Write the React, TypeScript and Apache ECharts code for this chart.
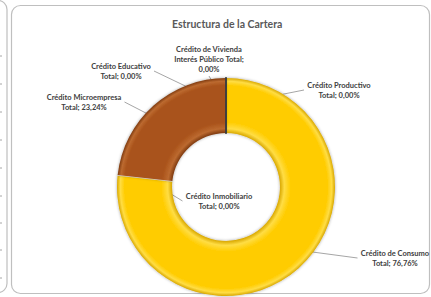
import { useEffect, useRef } from "react";
import * as echarts from "echarts";

const categories = [
  "Crédito de Consumo",
  "Crédito Inmobiliario",
  "Crédito Microempresa",
  "Crédito Educativo",
  "Crédito de Vivienda Interés Público",
  "Crédito Productivo",
];
const values = [76.76, 0, 23.24, 0, 0, 0];
const nameLines = [
  ["Crédito de Consumo"],
  ["Crédito Inmobiliario"],
  ["Crédito Microempresa"],
  ["Crédito Educativo"],
  ["Crédito de Vivienda", "Interés Público"],
  ["Crédito Productivo"],
];
const sliceColors = ["#FFCC00", "#FFCC00", "#A9521A", "#A9521A", "#A9521A", "#FFCC00"];
const titleText = "Estructura de la Cartera";

// layout (not data)
const CX = 226;
const CY = 187;
const R0 = 54;
const R1 = 109;
const labelPos = [
  [395, 258],
  [219, 201],
  [84, 102],
  [121, 71],
  [209, 59],
  [339, 90],
];
const tickYs = [56, 84, 112, 140, 168, 196, 223, 250, 278];
const LABEL_FONT = "Lato";
const LABEL_SIZE = 7.5;

const fmtPct = (v: number) => v.toFixed(2).replace(".", ",") + "%";

function labelLinesFor(i: number) {
  const nl = nameLines[i];
  const pct = fmtPct(values[i]);
  return nl.length > 1 ? [nl[0], `${nl[1]} Total;`, pct] : [nl[0], `Total; ${pct}`];
}

function grad(c0: string, c1: string, c2: string) {
  const a = R0 / R1;
  return new echarts.graphic.RadialGradient(
    CX,
    CY,
    R1,
    [
      { offset: a, color: c2 },
      { offset: a + 0.04, color: c0 },
      { offset: a + 0.1, color: c1 },
      { offset: 0.93, color: c1 },
      { offset: 0.97, color: c0 },
      { offset: 1, color: c2 },
    ],
    true
  );
}

export default function App() {
  const ref = useRef<HTMLDivElement>(null);
  useEffect(() => {
    if (!ref.current) return;
    const chart = echarts.init(ref.current, undefined, { renderer: "svg" });
    const total = values.reduce((a, b) => a + b, 0);

    const ctx = document.createElement("canvas").getContext("2d")!;
    ctx.font = `bold ${LABEL_SIZE}px ${LABEL_FONT}`;
    const widths = categories.map((_, i) =>
      Math.ceil(Math.max(...labelLinesFor(i).map((l) => ctx.measureText(l).width)))
    );
    const rich: Record<string, any> = {};
    widths.forEach((w, i) => {
      rich["t" + i] = {
        width: w,
        align: "center",
        fontFamily: LABEL_FONT,
        fontWeight: "bold",
        fontSize: LABEL_SIZE,
        lineHeight: 10,
        color: "#404040",
      };
    });

    const fills: Record<string, any> = {
      "#FFCC00": grad("#FFDD44", "#FFCC00", "#D9A800"),
      "#A9521A": grad("#BC6A30", "#A9521A", "#7F3A0F"),
    };
    const data = categories.map((c, i) => {
      const zero = values[i] === 0;
      const top = zero && i >= 3;
      return {
        name: c,
        value: values[i],
        itemStyle: {
          color: fills[sliceColors[i]],
          borderColor: top ? "#3F3F3F" : zero ? "#E8E8E8" : "rgba(0,0,0,0)",
          borderWidth: zero ? 1.5 : 0,
          shadowBlur: zero ? 0 : 3,
          shadowColor: "rgba(0,0,0,0.35)",
        },
      };
    });
    const option: any = {
      animation: false,
      backgroundColor: "#ffffff",
      title: {
        text: titleText,
        left: 167,
        top: 13,
        textStyle: {
          fontFamily: "Lato",
          fontWeight: "bold",
          fontSize: 10.5,
          color: "#595959",
        },
      },
      graphic: [
        {
          type: "rect",
          shape: { x: 11.5, y: 5.5, width: 418, height: 288, r: 9 },
          style: { fill: "none", stroke: "#BFBFBF", lineWidth: 1.2 },
          z: -1,
        },
        {
          type: "rect",
          shape: { x: -30, y: 0.5, width: 37, height: 292, r: 9 },
          style: { fill: "none", stroke: "#BFBFBF", lineWidth: 1.2 },
          z: -1,
        },
        ...tickYs.map((y) => ({
          type: "line",
          shape: { x1: 0, y1: y, x2: 2, y2: y },
          style: { stroke: "#A6A6A6", lineWidth: 1 },
        })),
      ],
      series: [
        {
          type: "pie",
          center: [CX, CY],
          radius: [R0, R1],
          startAngle: 90,
          clockwise: true,
          avoidLabelOverlap: false,
          stillShowZeroSum: true,
          minAngle: 0,
          data,
          label: {
            show: true,
            position: "outside",
            fontFamily: LABEL_FONT,
            fontWeight: "bold",
            fontSize: LABEL_SIZE,
            lineHeight: 10,
            color: "#404040",
            align: "center",
            rich,
            formatter: (p: any) => {
              const i = p.dataIndex;
              return labelLinesFor(i)
                .map((l) => `{t${i}|${l}}`)
                .join("\n");
            },
          },
          labelLine: {
            show: true,
            lineStyle: { color: "#A6A6A6", width: 1 },
          },
          emphasis: { disabled: true },
          labelLayout: (params: any) => {
            const i = params.dataIndex;
            const [lx, ly] = labelPos[i];
            const w = widths[i];
            const h = params.labelRect.height;
            let cum = 0;
            for (let k = 0; k < i; k++) cum += values[k];
            const mid = ((cum + values[i] / 2) / total) * Math.PI * 2;
            const rm = (R0 + R1) / 2;
            const px = CX + rm * Math.sin(mid);
            const py = CY - rm * Math.cos(mid);
            const left = lx - w / 2;
            const right = lx + w / 2;
            const top = ly - h / 2;
            const bottom = ly + h / 2;
            let ax: number, ay: number;
            if (px > right) {
              ax = right + 3;
              ay = ly;
            } else if (px < left) {
              ax = left - 3;
              ay = ly;
            } else if (py > bottom) {
              ax = lx;
              ay = bottom + 2;
            } else {
              ax = lx;
              ay = top - 2;
            }
            return {
              x: lx,
              y: ly,
              align: "center",
              verticalAlign: "middle",
              labelLinePoints: [
                [px, py],
                [ax, ay],
                [ax, ay],
              ],
            };
          },
        },
      ],
    };
    chart.setOption(option);
    return () => chart.dispose();
  }, []);
  return (
    <div
      ref={ref}
      style={{ position: "fixed", left: 0, top: 0, width: 431, height: 297, background: "#fff" }}
    />
  );
}
